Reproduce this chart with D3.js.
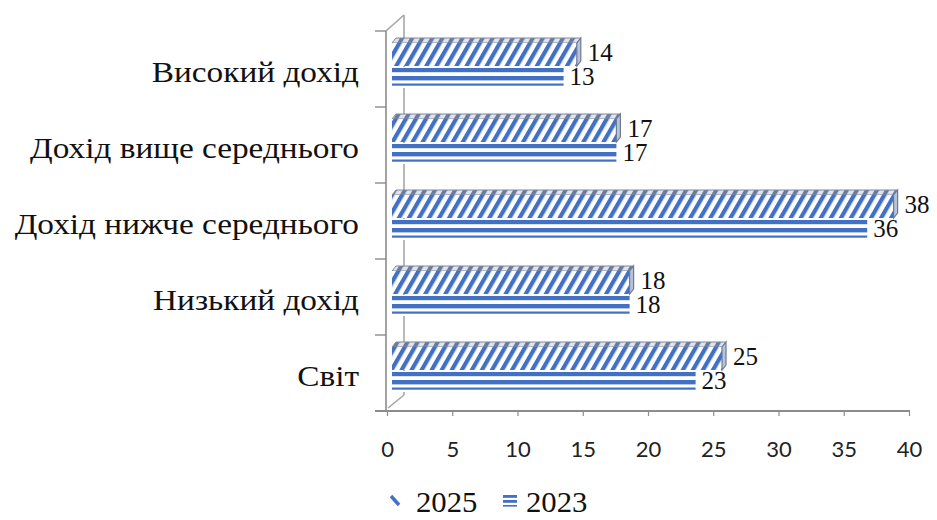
<!DOCTYPE html>
<html>
<head>
<meta charset="utf-8">
<script src="https://cdn.jsdelivr.net/npm/d3@7/dist/d3.min.js"></script>
<style>
  html, body { margin: 0; padding: 0; background: #fff; }
  svg { display: block; }
</style>
</head>
<body>
<svg id="chart" width="937" height="520"></svg>
<script>
// Income groups, top to bottom
const categories = ["Високий дохід", "Дохід вище середнього", "Дохід нижче середнього", "Низький дохід", "Світ"];
// Values per series
const values2025 = [14, 17, 38, 18, 25];
const values2023 = [13, 17, 36, 18, 23];
const seriesNames = ["2025", "2023"];
const xTicks = [0, 5, 10, 15, 20, 25, 30, 35, 40];

const svg = d3.select("#chart");
const blue = "#4170c4";
const axisGray = "#8c8c8c";
const serif = "'Liberation Serif', 'Times New Roman', serif";

// Front plane of the 3-D plot area
const plotLeft = 386, plotTop = 31, plotBottom = 411, plotRight = 910;
const depthX = 18, depthY = 16;   // back wall offset

const x = d3.scaleLinear().domain([0, 40]).range([387, 909]);
// bars sit midway in depth, so they use a shifted copy of the axis scale
const xBar = x.copy().range([392, 920]);
const y = d3.scaleBand().domain(categories).range([plotTop, plotBottom]).padding(0);

const defs = svg.append("defs");

// diagonal hatch for 2025
const hatch = defs.append("pattern")
  .attr("id", "hatch")
  .attr("patternUnits", "userSpaceOnUse")
  .attr("width", 8.7).attr("height", 8.7)
  .attr("patternTransform", "rotate(30)");
hatch.append("rect").attr("width", 8.7).attr("height", 8.7).attr("fill", "#fff");
hatch.append("rect").attr("width", 4.2).attr("height", 8.7).attr("fill", blue);

const hatchTop = defs.append("pattern")
  .attr("id", "hatchTop")
  .attr("patternUnits", "userSpaceOnUse")
  .attr("width", 8.7).attr("height", 8.7)
  .attr("patternTransform", "rotate(30)");
hatchTop.append("rect").attr("width", 8.7).attr("height", 8.7).attr("fill", "#dfe4ee");
hatchTop.append("rect").attr("width", 4).attr("height", 8.7).attr("fill", "#6b7b9c");

// ---- walls and axes ----
const g = svg.append("g");

// back wall edge and depth connectors
g.append("line")
  .attr("x1", plotLeft + depthX).attr("y1", plotTop - depthY)
  .attr("x2", plotLeft + depthX).attr("y2", plotBottom - depthY)
  .attr("stroke", "#a6a6a6").attr("stroke-width", 1.6);
g.append("line")
  .attr("x1", plotLeft).attr("y1", plotTop)
  .attr("x2", plotLeft + depthX).attr("y2", plotTop - depthY)
  .attr("stroke", "#a6a6a6").attr("stroke-width", 1.6);
g.append("line")
  .attr("x1", plotLeft + 2).attr("y1", plotBottom - 3)
  .attr("x2", plotLeft + depthX).attr("y2", plotBottom - depthY)
  .attr("stroke", "#a6a6a6").attr("stroke-width", 1.6);

// ---- bars ----
const bars = g.append("g");
const rows = categories.map((c, i) => ({ cat: c, v25: values2025[i], v23: values2023[i] }));

const h25 = 23, h23 = 21, topDx = 4, topDy = 5;

rows.forEach((d, i) => {
  const b = y(d.cat);
  const y25 = b + 12;
  const y23 = y25 + h25 + 1;
  const x0 = xBar(0);
  const x25 = xBar(d.v25);
  const x23 = xBar(d.v23);

  // 2023: horizontal-stripe bar (front face)
  const pid = "stripes" + i;
  const p = defs.append("pattern")
    .attr("id", pid)
    .attr("patternUnits", "userSpaceOnUse")
    .attr("x", 0).attr("y", y23)
    .attr("width", 10).attr("height", h23);
  p.append("rect").attr("width", 10).attr("height", h23).attr("fill", "#fff");
  p.append("rect").attr("y", 1).attr("width", 10).attr("height", 4.2).attr("fill", blue);
  p.append("rect").attr("y", 9).attr("width", 10).attr("height", 4.4).attr("fill", blue);
  p.append("rect").attr("y", 16.5).attr("width", 10).attr("height", 2.2).attr("fill", blue);

  bars.append("rect")
    .attr("x", x0).attr("y", y23)
    .attr("width", x23 - x0).attr("height", h23)
    .attr("fill", `url(#${pid})`);

  // 2025: top face
  bars.append("path")
    .attr("d", `M${x0},${y25} L${x0 + topDx},${y25 - topDy} L${x25 + topDx},${y25 - topDy} L${x25},${y25} Z`)
    .attr("fill", "url(#hatchTop)")
    .attr("stroke", "#7d8aa5").attr("stroke-width", 1);
  // 2025: front face
  bars.append("rect")
    .attr("x", x0).attr("y", y25)
    .attr("width", x25 - x0).attr("height", h25)
    .attr("fill", "url(#hatch)");
  // 2025: right side face
  bars.append("path")
    .attr("d", `M${x25},${y25} L${x25 + topDx},${y25 - topDy} L${x25 + topDx},${y25 + h25 - topDy} L${x25},${y25 + h25} Z`)
    .attr("fill", "#b9c3d8")
    .attr("stroke", "#6c7a98").attr("stroke-width", 1.2);

  // value labels
  bars.append("text")
    .attr("x", x25 + 11).attr("y", y25 + h25 / 2 - 2)
    .attr("dy", "0.35em")
    .attr("font-family", serif).attr("font-size", 25).attr("fill", "#111")
    .text(d.v25);
  bars.append("text")
    .attr("x", x23 + 6).attr("y", y23 + h23 / 2 - 1)
    .attr("dy", "0.35em")
    .attr("font-family", serif).attr("font-size", 25).attr("fill", "#111")
    .text(d.v23);
});

// front category axis line
g.append("line")
  .attr("x1", plotLeft).attr("y1", plotTop)
  .attr("x2", plotLeft).attr("y2", plotBottom)
  .attr("stroke", axisGray).attr("stroke-width", 1.6);

// category tick marks at band boundaries
const bounds = categories.map(c => y(c)).concat([plotBottom]);
g.selectAll(".ctick").data(bounds).join("line")
  .attr("x1", 375).attr("x2", plotLeft)
  .attr("y1", d => d).attr("y2", d => d)
  .attr("stroke", axisGray).attr("stroke-width", 1.4);

// category labels (slightly widened serif)
const labelX = 359;
g.selectAll(".clabel").data(categories).join("text")
  .attr("transform", d => `translate(${labelX},${y(d) + y.bandwidth() / 2 + 2}) scale(1.11,1)`)
  .attr("dy", "0.35em")
  .attr("text-anchor", "end")
  .attr("font-family", serif).attr("font-size", 30).attr("fill", "#111")
  .text(d => d);

// value axis
const xAxis = d3.axisBottom(x).tickValues(xTicks).tickSize(5).tickPadding(25).tickSizeOuter(0);
const ax = g.append("g").attr("transform", `translate(0,${plotBottom})`).call(xAxis);
ax.select(".domain").remove();
ax.append("line")
  .attr("x1", 375).attr("x2", plotRight).attr("y1", 0).attr("y2", 0)
  .attr("stroke", axisGray).attr("stroke-width", 1.8);
ax.selectAll(".tick line").attr("stroke", axisGray).attr("stroke-width", 1.2);
ax.selectAll(".tick text")
  .attr("font-family", "Lato, 'Liberation Sans', sans-serif")
  .attr("font-size", 22).attr("fill", "#222");

// legend
const legend = svg.append("g");
// 2025 marker: short hatch stroke
legend.append("line")
  .attr("x1", 391).attr("y1", 496).attr("x2", 399).attr("y2", 505)
  .attr("stroke", blue).attr("stroke-width", 3.4);
legend.append("text")
  .attr("transform", "translate(416,512) scale(1.06,1)")
  .attr("font-family", serif).attr("font-size", 29).attr("fill", "#111")
  .text(seriesNames[0]);
// 2023 marker: three stripes
[495, 500, 505].forEach((yy, k) => {
  legend.append("rect")
    .attr("x", 503).attr("y", yy).attr("width", 14).attr("height", k === 2 ? 1.6 : 2.8)
    .attr("fill", blue);
});
legend.append("text")
  .attr("transform", "translate(526,512) scale(1.06,1)")
  .attr("font-family", serif).attr("font-size", 29).attr("fill", "#111")
  .text(seriesNames[1]);
</script>
</body>
</html>
